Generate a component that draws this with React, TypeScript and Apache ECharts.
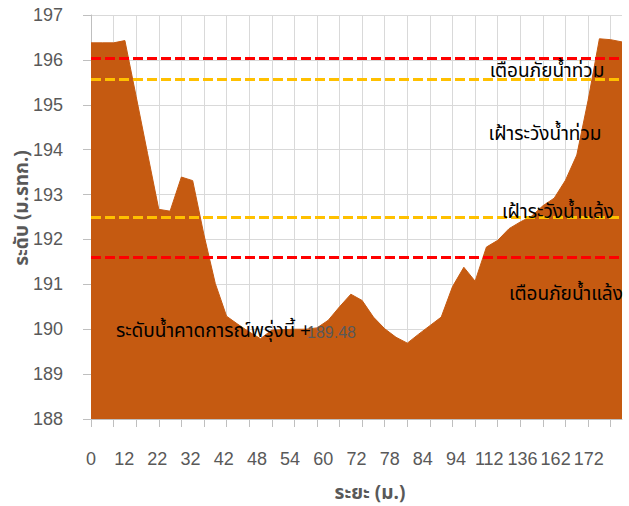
import React, { useEffect, useRef } from "react";
import * as echarts from "echarts";

// x-axis tick labels (distance, m)
const xLabels = ["0", "12", "22", "32", "42", "48", "54", "60", "72", "78", "84", "94", "112", "136", "162", "172"];

// cross-section ground / water profile levels (m. MSL)
const profileLevels = [
  196.38, 196.38, 196.38, 196.43, 195.18, 193.92, 192.67, 192.63, 193.39, 193.31,
  192.1, 191.02, 190.29, 190.11, 189.94, 189.79, 189.98, 189.99, 190.0, 190.0,
  190.03, 190.2, 190.5, 190.78, 190.64, 190.27, 190.01, 189.82, 189.69, 189.89,
  190.08, 190.27, 190.95, 191.38, 191.07, 191.83, 191.98, 192.24, 192.39, 192.52,
  192.75, 192.92, 193.32, 193.88, 195.1, 196.47, 196.45, 196.4,
];

// threshold levels
const floodWarning = 196.03;
const floodWatch = 195.57;
const droughtWatch = 192.49;
const droughtWarning = 191.61;
const forecastLevel = 189.48;

const yMin = 188;
const yMax = 197;

const thaiFont = "Tahoma, 'Noto Sans Thai', 'Noto Sans', 'DejaVu Sans', sans-serif";
const numFont = "'Liberation Sans', Arial, sans-serif";

export default function App() {
  const ref = useRef<HTMLDivElement>(null);

  useEffect(() => {
    document.body.style.margin = "0";
    if (!ref.current) return;
    const chart = echarts.init(ref.current, undefined, { renderer: "svg" });
    const dash = { type: [10, 4] as number[], width: 3 };
    const label = (text: string, x: number, y: number) => ({
      type: "text",
      z: 100,
      x,
      y,
      style: { text, font: `19px ${thaiFont}`, fill: "#000", align: "center", verticalAlign: "middle" },
    });
    chart.setOption({
      animation: false,
      grid: { left: 91, right: 7, top: 15, bottom: 87 },
      xAxis: [
        {
          type: "category",
          data: [...xLabels, ""],
          boundaryGap: false,
          position: "bottom",
          axisLine: { show: false },
          axisTick: { show: false },
          splitLine: { show: false },
          axisLabel: { color: "#595959", fontSize: 18, fontFamily: numFont, margin: 31, interval: 0 },
        },
        {
          type: "category",
          data: profileLevels.map((_, i) => String(i)),
          boundaryGap: false,
          position: "bottom",
          axisLine: { show: true, lineStyle: { color: "#bfbfbf", width: 1 } },
          axisTick: { show: true, interval: 1, length: 8, lineStyle: { color: "#bfbfbf" } },
          axisLabel: { show: false },
          splitLine: { show: true, interval: 1, lineStyle: { color: "#d9d9d9", width: 1 } },
        },
      ],
      yAxis: {
        type: "value",
        min: yMin,
        max: yMax,
        interval: 1,
        axisLine: { show: true, lineStyle: { color: "#bfbfbf", width: 1 } },
        axisTick: { show: true, length: 8, lineStyle: { color: "#bfbfbf" } },
        axisLabel: { color: "#595959", fontSize: 18, fontFamily: numFont, margin: 28 },
        splitLine: { show: true, lineStyle: { color: "#d9d9d9", width: 1 } },
      },
      series: [
        {
          type: "line",
          xAxisIndex: 1,
          data: profileLevels,
          symbol: "none",
          z: 2,
          lineStyle: { width: 1, color: "#C55A11" },
          areaStyle: { color: "#C55A11", opacity: 1, origin: "start" },
          markLine: {
            silent: true,
            symbol: "none",
            label: { show: false },
            data: [
              { yAxis: floodWarning, lineStyle: { ...dash, color: "#FF0000" } },
              { yAxis: floodWatch, lineStyle: { ...dash, color: "#FFC000" } },
              { yAxis: droughtWatch, lineStyle: { ...dash, color: "#FFC000" } },
              { yAxis: droughtWarning, lineStyle: { ...dash, color: "#FF0000" } },
            ],
          },
        },
      ],
      graphic: [
        label("เตือนภัยน้ำท่วม", 547, 71),
        label("เฝ้าระวังน้ำท่วม", 545, 134),
        label("เฝ้าระวังน้ำแล้ง", 558, 212),
        label("เตือนภัยน้ำแล้ง", 566, 294),
        {
          type: "text",
          z: 100,
          x: 311,
          y: 331,
          style: { text: "ระดับน้ำคาดการณ์พรุ่งนี้ +", font: `19px ${thaiFont}`, fill: "#000", align: "right", verticalAlign: "middle" },
        },
        {
          type: "text",
          z: 100,
          x: 307,
          y: 332,
          style: { text: forecastLevel.toFixed(2), font: `16px ${numFont}`, fill: "#595959", align: "left", verticalAlign: "middle" },
        },
        {
          type: "text",
          z: 100,
          x: 22,
          y: 208,
          rotation: Math.PI / 2,
          style: { text: "ระดับ (ม.รทก.)", font: `bold 19px ${thaiFont}`, fill: "#595959", align: "center", verticalAlign: "middle" },
        },
        {
          type: "text",
          z: 100,
          x: 370,
          y: 493,
          style: { text: "ระยะ (ม.)", font: `bold 19px ${thaiFont}`, fill: "#595959", align: "center", verticalAlign: "middle" },
        },
      ],
    });
    return () => chart.dispose();
  }, []);

  return <div ref={ref} style={{ width: 629, height: 506 }} />;
}
